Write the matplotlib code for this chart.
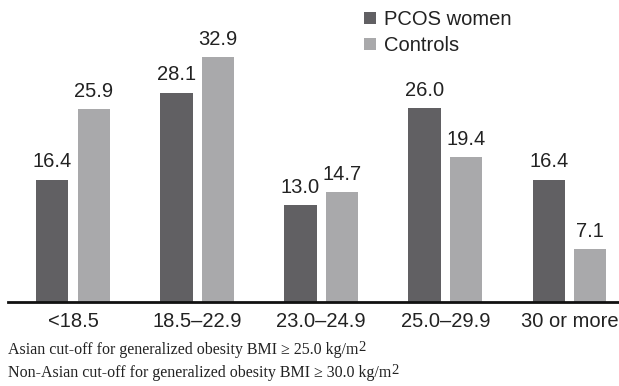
import matplotlib
matplotlib.use("Agg")
import matplotlib.pyplot as plt
import numpy as np

# --- data ---
categories = ["<18.5", "18.5\u201322.9", "23.0\u201324.9", "25.0\u201329.9", "30 or more"]
pcos = [16.4, 28.1, 13.0, 26.0, 16.4]
controls = [25.9, 32.9, 14.7, 19.4, 7.1]
series_names = ["PCOS women", "Controls"]
captions = [
    "Asian cut-off for generalized obesity BMI \u2265 25.0 kg/m",
    "Non-Asian cut-off for generalized obesity BMI \u2265 30.0 kg/m",
]

dark = "#616063"
light = "#a9a9ab"

plt.rcParams["font.family"] = ["Liberation Sans", "DejaVu Sans"]

fig = plt.figure(figsize=(6.19, 3.86), dpi=100)
ax = fig.add_axes([8 / 619, (386 - 302) / 386, 1 - 8 / 619, 298 / 386])

x = np.arange(len(categories))
w = 0.26
off = 0.167
b1 = ax.bar(x - off, pcos, w, color=dark, label=series_names[0])
b2 = ax.bar(x + off, controls, w, color=light, label=series_names[1])

for bars in (b1, b2):
    for bar in bars:
        ax.annotate(f"{bar.get_height():.1f}",
                    (bar.get_x() + bar.get_width() / 2, bar.get_height()),
                    xytext=(0, 6), textcoords="offset points",
                    ha="center", va="bottom", fontsize=14.5, color="#222222")

ax.set_xlim(-0.524, 4.40)
ax.set_ylim(0, 40)
ax.set_xticks(x)
ax.set_xticklabels(categories, fontsize=14.5, color="#222222")
ax.tick_params(axis="x", length=0, pad=7)
ax.set_yticks([])
for s in ["top", "right", "left"]:
    ax.spines[s].set_visible(False)
ax.spines["bottom"].set_linewidth(2)
ax.spines["bottom"].set_color("#111111")

leg = ax.legend(loc="upper left", bbox_to_anchor=(356 / 619, 1 - 2 / 386),
                bbox_transform=fig.transFigure, frameon=False,
                fontsize=14.5, handlelength=0.6, handleheight=0.6,
                handletextpad=0.4, labelspacing=0.35, borderaxespad=0)
for t in leg.get_texts():
    t.set_color("#222222")

# captions, with the "2" of m2 raised at near full size
for i, cap in enumerate(captions):
    t = fig.text(8 / 619, 1 - (350 + 23 * i) / 386, cap, ha="left", va="center",
                 fontsize=11.5, family="Liberation Serif", color="#222222")
    ax.annotate("2", xy=(1, 0.22), xycoords=t, ha="left", va="bottom",
                fontsize=10.5, family="Liberation Serif", color="#222222",
                annotation_clip=False)

fig.savefig("out.png", dpi=100)
